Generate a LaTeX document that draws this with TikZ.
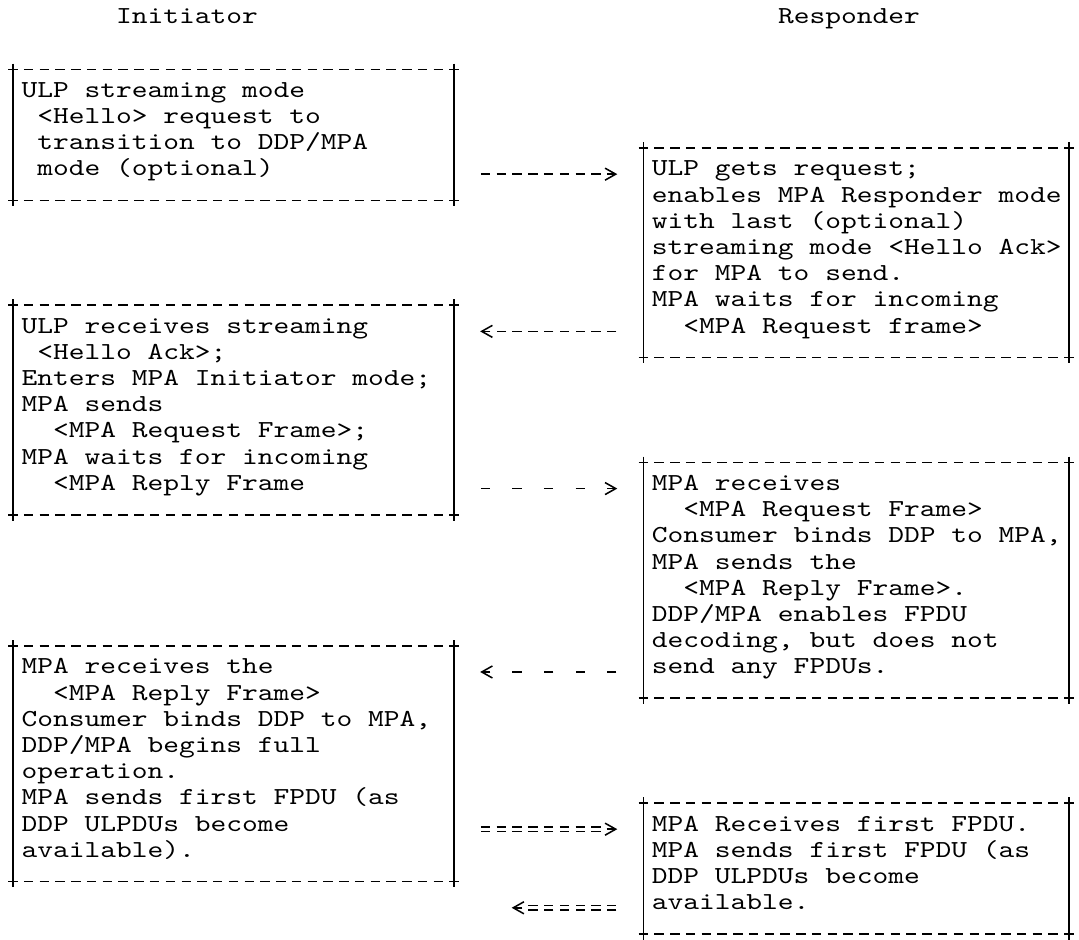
\documentclass[tikz,border=0pt]{standalone}
\usepackage{fontspec}
\newfontfamily\rfcfont{lmmono10-regular.otf}[FakeStretch=1.23]
\usetikzlibrary{arrows.meta}

\newcommand\sk{\phantom{x}}

\begin{document}
\begin{tikzpicture}[x=11.82pt, y=-19.65pt, line width=1.15pt,
     txt/.style={anchor=north west, inner sep=0pt, yshift=15pt, align=left,
       font=\rfcfont\fontsize{18.3pt}{19.65pt}\selectfont,
       execute at begin node={\rule{0pt}{15pt}}},
     hyph/.style={dash pattern=on 7.09pt off 4.73pt},
     spaced/.style={dash pattern=on 7.09pt off 16.55pt},
     dbl/.style={hyph, double, double distance=2.2pt, line width=1pt},
     tip/.style={-{Straight Barb[length=8pt, width=9pt]}}]

  \useasboundingbox (-0.317,-0.878) rectangle (68.147,34.962);

  \node[txt] (init) at (7,0) {Initiator};
  \node[txt] (resp) at (49,0) {Responder};

  \foreach \ca/\ra/\cb/\rb in {0/2/28/7, 40/5/67/13, 0/11/28/19, 40/17/67/26, 0/24/28/33, 40/30/67/35} {
    \draw[hyph] ({\ca+0.2},{\ra-0.23}) -- ({\cb+0.8},{\ra-0.23});
    \draw[hyph] ({\ca+0.2},{\rb-0.23}) -- ({\cb+0.8},{\rb-0.23});
    \draw ({\ca+0.5},{\ra-0.45}) -- ({\ca+0.5},{\rb-0.01});
    \draw ({\cb+0.5},{\ra-0.45}) -- ({\cb+0.5},{\rb-0.01});
  }

  \node[txt] (hello) at (1,3) {ULP streaming mode\\
    \sk<Hello> request to\\
    \sk transition to DDP/MPA\\
    \sk mode (optional)};
  \node[txt] (getsreq) at (41,6) {ULP gets request;\\
    enables MPA Responder mode\\
    with last (optional)\\
    streaming mode <Hello Ack>\\
    for MPA to send.\\
    MPA waits for incoming\\
    \sk\sk<MPA Request frame>};
  \node[txt] (recvack) at (1,12) {ULP receives streaming\\
    \sk<Hello Ack>;\\
    Enters MPA Initiator mode;\\
    MPA sends\\
    \sk\sk<MPA Request Frame>;\\
    MPA waits for incoming\\
    \sk\sk<MPA Reply Frame};
  \node[txt] (recvreq) at (41,18) {MPA receives\\
    \sk\sk<MPA Request Frame>\\
    Consumer binds DDP to MPA,\\
    MPA sends the\\
    \sk\sk<MPA Reply Frame>.\\
    DDP/MPA enables FPDU\\
    decoding, but does not\\
    send any FPDUs.};
  \node[txt] (recvrep) at (1,25) {MPA receives the\\
    \sk\sk<MPA Reply Frame>\\
    Consumer binds DDP to MPA,\\
    DDP/MPA begins full\\
    operation.\\
    MPA sends first FPDU (as\\
    DDP ULPDUs become\\
    available).};
  \node[txt] (firstfpdu) at (41,31) {MPA Receives first FPDU.\\
    MPA sends first FPDU (as\\
    DDP ULPDUs become\\
    available.};

  \coordinate (hreq0) at (30.2,5.77);  \coordinate (hreq1) at (38.85,5.77);
  \coordinate (hack0) at (38.8,11.77); \coordinate (hack1) at (30.15,11.77);
  \coordinate (mreq0) at (30.2,17.77); \coordinate (mreq1) at (38.85,17.77);
  \coordinate (mrep0) at (38.8,24.77); \coordinate (mrep1) at (30.15,24.77);
  \coordinate (fpdu0) at (30.2,30.77); \coordinate (fpdu1) at (38.85,30.77);
  \coordinate (fpdub0) at (38.8,33.77); \coordinate (fpdub1) at (32.15,33.77);

  \draw[hyph, tip] (hreq0) -- (hreq1);
  \draw[hyph, tip] (hack0) -- (hack1);
  \draw[spaced, tip] (mreq0) -- (mreq1);
  \draw[spaced, tip] (mrep0) -- (mrep1);
  \draw[dbl] (fpdu0) -- ([xshift=-8pt]fpdu1);
  \draw[tip] ([xshift=-8pt]fpdu1) -- (fpdu1);
  \draw[dbl] (fpdub0) -- ([xshift=8pt]fpdub1);
  \draw[tip] ([xshift=8pt]fpdub1) -- (fpdub1);
\end{tikzpicture}
\end{document}
